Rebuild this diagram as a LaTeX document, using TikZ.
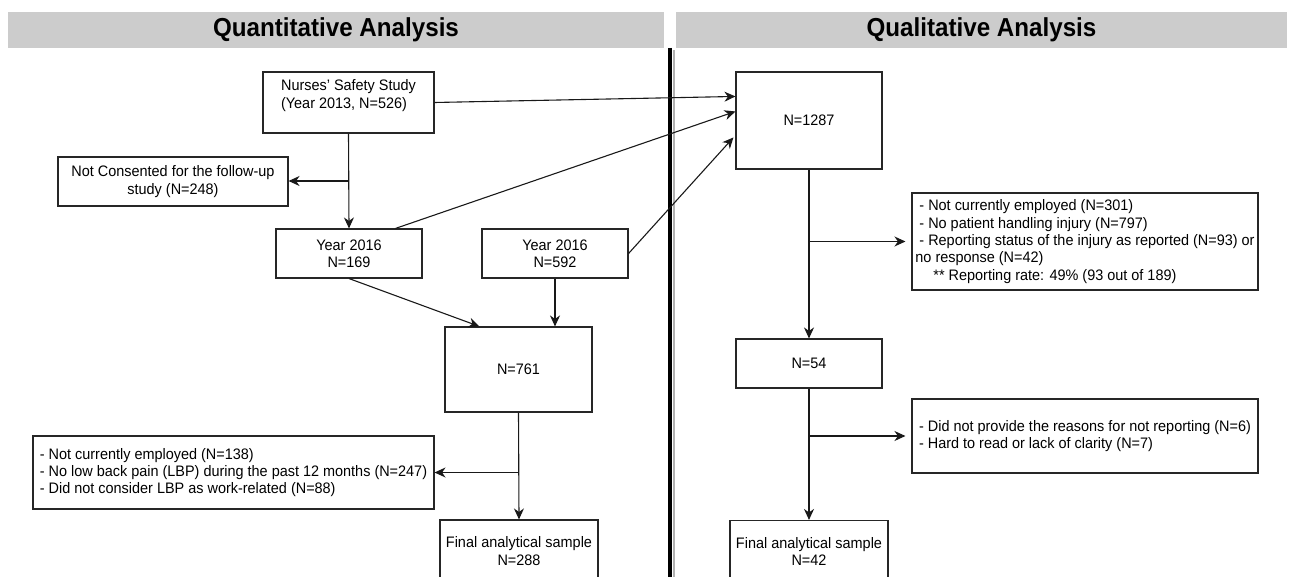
\documentclass[tikz,border=0pt]{standalone}
\usepackage{fontspec}
\setmainfont{Liberation Sans}[FakeStretch=0.95]
\newfontfamily\hdrfont{Liberation Sans}[FakeStretch=0.93]
\usetikzlibrary{arrows.meta,calc}
\begin{document}
\begin{tikzpicture}[x=1pt,y=-1pt,
  box/.style={draw=black!85, line width=1.1pt, fill=white, inner sep=0pt,
    font=\fontsize{15.2}{17.3}\selectfont},
  hdr/.style={fill=black!20, inner sep=0pt, font=\hdrfont\fontsize{26}{30}\selectfont\bfseries},
  arr/.style={-{Stealth[length=11pt,width=10pt,inset=3.5pt]}, line width=1.1pt, draw=black!90},
  ln/.style={line width=1.1pt, draw=black!90}]
\useasboundingbox (0,0) rectangle (1293,577);
\clip (0,0) rectangle (1293,577);

% headers
\node[hdr, minimum width=656pt, minimum height=36pt] (hq) at (336,30) {Quantitative Analysis};
\node[hdr, minimum width=611pt, minimum height=36pt] (hl) at (981.5,30) {Qualitative Analysis};

% divider
\draw[black!30, line width=2pt] (673.5,50) -- (673.5,577);
\draw[black, line width=4.5pt] (670,48) -- (670,577);

% left side boxes
\node[box, minimum width=171pt, minimum height=61pt, align=left] (nss) at (348.5,102.5)
  {Nurses’ Safety Study\\(Year 2013, N=526)\\ };
\node[box, minimum width=230pt, minimum height=49pt, align=center] (notc) at (173,181.5)
  {Not Consented for the follow-up\\study (N=248)};
\node[box, minimum width=146pt, minimum height=49pt, align=center] (y169) at (349,253.5)
  {Year 2016\\N=169};
\node[box, minimum width=146pt, minimum height=49pt, align=center] (y592) at (555,253.5)
  {Year 2016\\N=592};
\node[box, minimum width=147pt, minimum height=85pt] (n761) at (518.5,369.5) {N=761};
\node[box, minimum width=401pt, minimum height=73pt, align=left] (lbp) at (233.5,472.5)
  {- Not currently employed (N=138)\\- No low back pain (LBP) during the past 12 months (N=247)\\- Did not consider LBP as work-related (N=88)};
\node[box, minimum width=158pt, minimum height=62pt, align=center] (fin1) at (519,551)
  {Final analytical sample\\N=288};

% right side boxes
\node[box, minimum width=146pt, minimum height=97pt] (n1287) at (809,120.5) {N=1287};
\node[box, minimum width=346pt, minimum height=97pt, align=left] (exc1) at (1085,241.5)
  {\hspace*{4pt}- Not currently employed (N=301)\\
   \hspace*{4pt}- No patient handling injury (N=797)\\
   \hspace*{4pt}- Reporting status of the injury as reported (N=93) or\\
   no response (N=42)\\
   \hspace*{18pt}** Reporting rate: 49\% (93 out of 189)};
\node[box, minimum width=146pt, minimum height=49pt] (n54) at (809,363.5) {N=54};
\node[box, minimum width=346pt, minimum height=74pt, align=left] (exc2) at (1085,436)
  {- Did not provide the reasons for not reporting (N=6)\\- Hard to read or lack of clarity (N=7)};
\node[box, minimum width=158pt, minimum height=62pt, align=center] (fin2) at (809,551.5)
  {Final analytical sample\\N=42};

% branch points
\coordinate (b1) at ($(nss.south)!0.5!(y169.north)$);
\coordinate (b2) at (n761.south |- lbp.east);
\coordinate (b3) at (n1287.south |- exc1.west);
\coordinate (b4) at (n54.south |- exc2.west);

% connectors left
\draw[arr] (nss.south) -- (y169.north);
\draw[arr] (b1) -- (notc.east |- b1);
\draw[arr] (y169.south) -- ($(n761.north west)+(35,0)$);
\draw[arr] (y592.south) -- (y592.south |- n761.north);
\draw[arr] (n761.south) -- (fin1.north);
\draw[arr] (b2) -- (lbp.east);

% connectors to N=1287
\draw[arr] (nss.east) -- ($(n1287.north west)+(0,25)$);
\draw[arr] ($(y169.north west)+(120,0)$) -- ($(n1287.north west)+(0,40)$);
\draw[arr] (y592.east) -- ($(n1287.north west)+(-2,66)$);

% connectors right
\draw[arr] (n1287.south) -- (n54.north);
\draw[arr, shorten >=6pt] (b3) -- (exc1.west);
\draw[arr] (n54.south) -- (fin2.north);
\draw[arr, shorten >=6pt] (b4) -- (exc2.west);
\end{tikzpicture}
\end{document}
